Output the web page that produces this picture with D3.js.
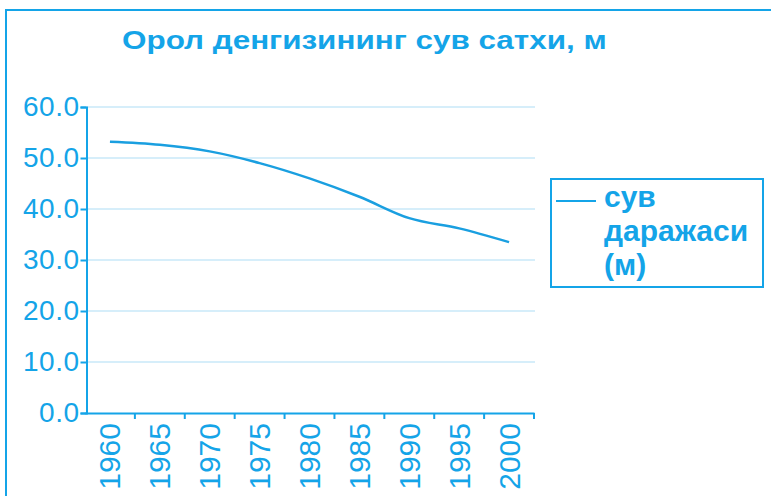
<!DOCTYPE html>
<html>
<head>
<meta charset="utf-8">
<script src="https://cdn.jsdelivr.net/npm/d3@7"></script>
<style>
  body { margin: 0; background: #fff; }
  text { font-family: "Liberation Sans", Arial, sans-serif; fill: #14a4e8; }
</style>
</head>
<body>
<script>
// chart data
const years = ["1960", "1965", "1970", "1975", "1980", "1985", "1990", "1995", "2000"];
const level = [53.2, 52.6, 51.3, 49.0, 46.0, 42.4, 38.2, 36.2, 33.5];
const yTicks = [0, 10, 20, 30, 40, 50, 60];
const titleText = "Орол денгизининг сув сатхи, м";
const legendLines = ["сув", "даражаси", "(м)"];

function draw() {
	const blue = "#14a4e8";
	const width = 771, height = 496;

	let svg = d3.select("body").append("svg")
		.attr("width", width)
		.attr("height", height);

	// outer frame (left and top only visible)
	svg.append("path")
		.attr("d", "M6,500 L6,10 L775,10")
		.attr("fill", "none")
		.attr("stroke", blue)
		.attr("stroke-width", 2);

	// title - glyphs are stretched wide in the original, so scale it horizontally
	let title = svg.append("text")
		.attr("x", 0)
		.attr("y", 0)
		.style("font-size", "26px")
		.style("font-weight", "bold")
		.text(titleText);
	let tw = title.node().getComputedTextLength();
	title.attr("transform", "translate(122,49) scale(" + (485 / tw) + ",1)");

	// scales
	let x = d3.scaleBand().domain(years).range([85, 534]).padding(0);
	let y = d3.scaleLinear().domain([0, 60]).range([413, 107]);

	// grid
	svg.append("g").selectAll("line")
		.data(yTicks.slice(1))
		.enter().append("line")
		.attr("x1", 87).attr("x2", 535)
		.attr("y1", (d) => y(d)).attr("y2", (d) => y(d))
		.attr("stroke", "#c9e8f9")
		.attr("stroke-width", 1.5);

	// y axis
	let yAxis = svg.append("g")
		.attr("transform", "translate(86.5,0)")
		.call(d3.axisLeft(y).tickValues(yTicks).tickFormat(d3.format(".1f")).tickSize(6).tickPadding(1));
	yAxis.select(".domain").attr("stroke", blue).attr("stroke-width", 2);
	yAxis.selectAll(".tick line").attr("stroke", blue).attr("stroke-width", 2);
	yAxis.selectAll(".tick text")
		.attr("fill", blue)
		.style("font-size", "28px")
		.style("letter-spacing", "0.5px")
		.style("font-family", "Liberation Sans, Arial, sans-serif");

	// x axis
	let xAxis = svg.append("g")
		.attr("transform", "translate(0,413)")
		.call(d3.axisBottom(x).tickSize(0).tickPadding(10));
	xAxis.select(".domain").attr("stroke", blue).attr("stroke-width", 2);
	xAxis.selectAll(".tick text")
		.attr("fill", blue)
		.style("font-size", "30px")
		.style("font-family", "Liberation Sans, Arial, sans-serif")
		.attr("transform", "rotate(-90)")
		.attr("text-anchor", "end")
		.attr("x", -10)
		.attr("y", 0)
		.attr("dy", "0.35em");

	// tick marks between the categories
	xAxis.selectAll(".bound")
		.data(years)
		.enter().append("line")
		.attr("class", "bound")
		.attr("x1", (d) => x(d) + x.bandwidth())
		.attr("x2", (d) => x(d) + x.bandwidth())
		.attr("y1", 0).attr("y2", 6)
		.attr("stroke", blue)
		.attr("stroke-width", 2);

	// line
	let line = d3.line()
		.x((d, i) => x(years[i]) + x.bandwidth() / 2)
		.y((d) => y(d))
		.curve(d3.curveMonotoneX);

	svg.append("path")
		.datum(level)
		.attr("d", line)
		.attr("fill", "none")
		.attr("stroke", "#1a9fe0")
		.attr("stroke-width", 2.5);

	// legend
	let lg = svg.append("g");
	lg.append("rect")
		.attr("x", 551).attr("y", 179)
		.attr("width", 212).attr("height", 108)
		.attr("fill", "none")
		.attr("stroke", blue)
		.attr("stroke-width", 2);
	lg.append("line")
		.attr("x1", 556).attr("x2", 596)
		.attr("y1", 201).attr("y2", 201)
		.attr("stroke", blue)
		.attr("stroke-width", 2);
	lg.selectAll("text.leg")
		.data(legendLines)
		.enter().append("text")
		.attr("class", "leg")
		.attr("x", 604)
		.attr("y", (d, i) => 207 + i * 34)
		.style("font-size", "30px")
		.style("font-weight", "bold")
		.text((d) => d);
}

window.addEventListener("load", draw);
</script>
</body>
</html>
